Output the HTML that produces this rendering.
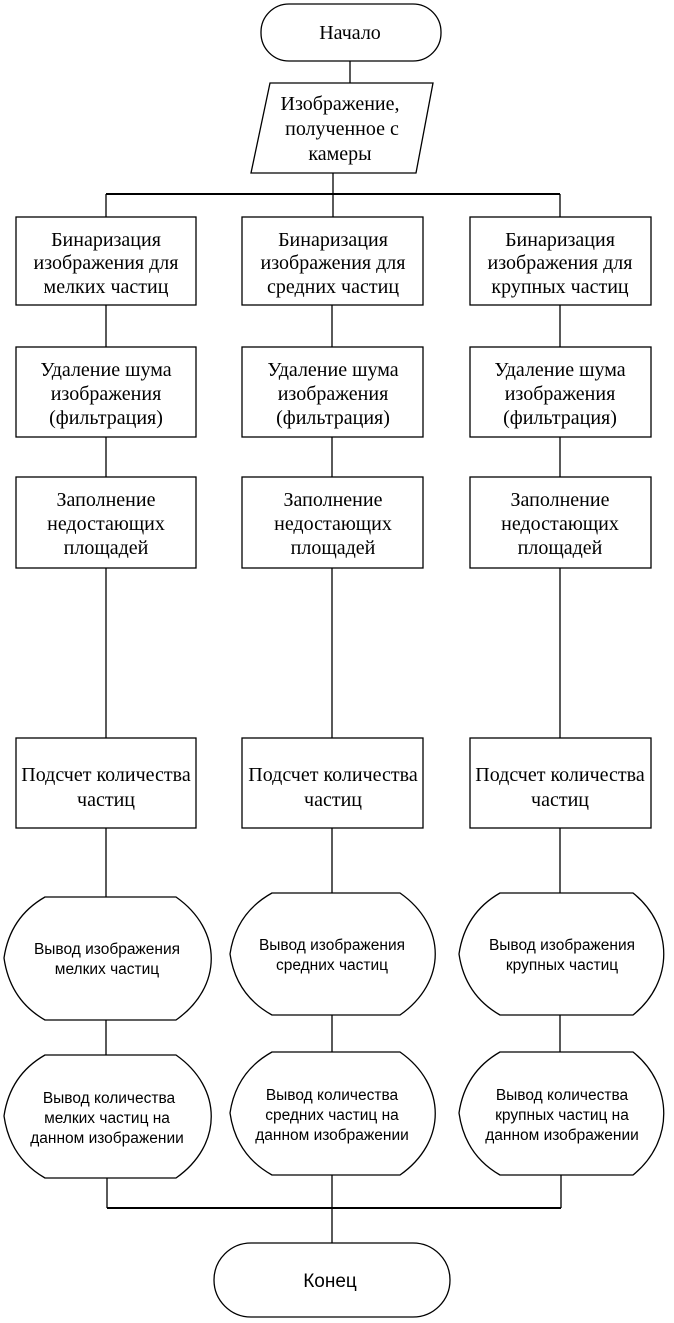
<!DOCTYPE html>
<html><head><meta charset="utf-8"><style>
html,body{margin:0;padding:0;background:#fff;}
svg{display:block;}
.s{font-family:"Liberation Serif",serif;font-size:20px;fill:#000;text-anchor:middle;}
.a{font-family:"Liberation Sans",sans-serif;font-size:15.5px;fill:#000;text-anchor:middle;}
</style></head><body>
<svg width="674" height="1323" viewBox="0 0 674 1323" xmlns="http://www.w3.org/2000/svg">
<g fill="none" stroke="#000" stroke-width="1.3">
<rect x="261" y="4" width="180" height="57" rx="28"/>
<line x1="350" y1="61" x2="350" y2="83"/>
<polygon points="270,83 433,83 416,173 251,173"/>
<line x1="333" y1="173" x2="333" y2="194"/>
<line x1="106" y1="194" x2="560" y2="194" stroke-width="2"/>
<line x1="106" y1="194" x2="106" y2="217"/>
<line x1="333" y1="194" x2="333" y2="217"/>
<line x1="560" y1="194" x2="560" y2="217"/>
<rect x="16" y="217" width="180" height="88"/>
<rect x="242" y="217" width="181" height="88"/>
<rect x="470" y="217" width="181" height="88"/>
<rect x="16" y="347" width="180" height="90"/>
<rect x="242" y="347" width="181" height="90"/>
<rect x="470" y="347" width="181" height="90"/>
<rect x="16" y="477" width="180" height="91"/>
<rect x="242" y="477" width="181" height="91"/>
<rect x="470" y="477" width="181" height="91"/>
<rect x="16" y="738" width="180" height="90"/>
<rect x="242" y="738" width="181" height="90"/>
<rect x="470" y="738" width="181" height="90"/>
<line x1="106" y1="305" x2="106" y2="347"/><line x1="332" y1="305" x2="332" y2="347"/><line x1="560" y1="305" x2="560" y2="347"/>
<line x1="106" y1="437" x2="106" y2="477"/><line x1="332" y1="437" x2="332" y2="477"/><line x1="560" y1="437" x2="560" y2="477"/>
<line x1="106" y1="568" x2="106" y2="738"/><line x1="332" y1="568" x2="332" y2="738"/><line x1="560" y1="568" x2="560" y2="738"/>
<line x1="106" y1="828" x2="106" y2="897"/><line x1="332" y1="828" x2="332" y2="893"/><line x1="560" y1="828" x2="560" y2="893"/>
<path d="M45,897 L176,897 C223,930 223,987 176,1020 L45,1020 Q10,1000 4,958 Q10,917 45,897 Z"/>
<path d="M272,893 L400,893 C447,926 447,982 400,1015 L272,1015 Q236,995 230,954 Q236,913 272,893 Z"/>
<path d="M500,893 L633,893 C674,926 674,982 633,1015 L500,1015 Q465,995 459,954 Q465,913 500,893 Z"/>
<line x1="106" y1="1020" x2="106" y2="1055"/><line x1="332" y1="1015" x2="332" y2="1052"/><line x1="560" y1="1015" x2="560" y2="1052"/>
<path d="M45,1055 L176,1055 C223,1088 223,1145 176,1178 L45,1178 Q10,1158 4,1116 Q10,1075 45,1055 Z"/>
<path d="M272,1052 L400,1052 C447,1085 447,1142 400,1175 L272,1175 Q236,1155 230,1113 Q236,1072 272,1052 Z"/>
<path d="M500,1052 L633,1052 C674,1085 674,1142 633,1175 L500,1175 Q465,1155 459,1113 Q465,1072 500,1052 Z"/>
<line x1="107" y1="1178" x2="107" y2="1208"/><line x1="332" y1="1175" x2="332" y2="1243"/><line x1="561" y1="1175" x2="561" y2="1208"/>
<line x1="107" y1="1208" x2="561" y2="1208" stroke-width="2"/>
<rect x="214" y="1243" width="236" height="74" rx="37"/>
</g>
<text class="s" x="350" y="39">Начало</text>
<text class="s" x="340" y="110">Изображение,</text>
<text class="s" x="342" y="135">полученное с</text>
<text class="s" x="340" y="160">камеры</text>
<g class="s">
<text x="106" y="246">Бинаризация</text><text x="106" y="269">изображения для</text><text x="106" y="293">мелких частиц</text>
<text x="333" y="246">Бинаризация</text><text x="333" y="269">изображения для</text><text x="333" y="293">средних частиц</text>
<text x="560" y="246">Бинаризация</text><text x="560" y="269">изображения для</text><text x="560" y="293">крупных частиц</text>
</g>
<g class="s">
<text x="106" y="376">Удаление шума</text><text x="106" y="400">изображения</text><text x="106" y="424">(фильтрация)</text>
<text x="333" y="376">Удаление шума</text><text x="333" y="400">изображения</text><text x="333" y="424">(фильтрация)</text>
<text x="560" y="376">Удаление шума</text><text x="560" y="400">изображения</text><text x="560" y="424">(фильтрация)</text>
</g>
<g class="s">
<text x="106" y="506">Заполнение</text><text x="106" y="530">недостающих</text><text x="106" y="554">площадей</text>
<text x="333" y="506">Заполнение</text><text x="333" y="530">недостающих</text><text x="333" y="554">площадей</text>
<text x="560" y="506">Заполнение</text><text x="560" y="530">недостающих</text><text x="560" y="554">площадей</text>
</g>
<g class="s">
<text x="106" y="781">Подсчет количества</text><text x="106" y="806">частиц</text>
<text x="333" y="781">Подсчет количества</text><text x="333" y="806">частиц</text>
<text x="560" y="781">Подсчет количества</text><text x="560" y="806">частиц</text>
</g>
<g class="a">
<text x="107" y="954">Вывод изображения</text><text x="107" y="974">мелких частиц</text>
<text x="332" y="950">Вывод изображения</text><text x="332" y="970">средних частиц</text>
<text x="562" y="950">Вывод  изображения</text><text x="562" y="970">крупных частиц</text>
<text x="109" y="1103">Вывод количества</text><text x="107" y="1123">мелких частиц на</text><text x="107" y="1143">данном изображении</text>
<text x="332" y="1100">Вывод количества</text><text x="332" y="1120">средних частиц на</text><text x="332" y="1140">данном изображении</text>
<text x="562" y="1100">Вывод количества</text><text x="562" y="1120">крупных частиц на</text><text x="562" y="1140">данном изображении</text>
</g>
<text x="330" y="1287" style="font-family:'Liberation Sans',sans-serif;font-size:19px;fill:#000;text-anchor:middle;">Конец</text>
</svg>
</body></html>
